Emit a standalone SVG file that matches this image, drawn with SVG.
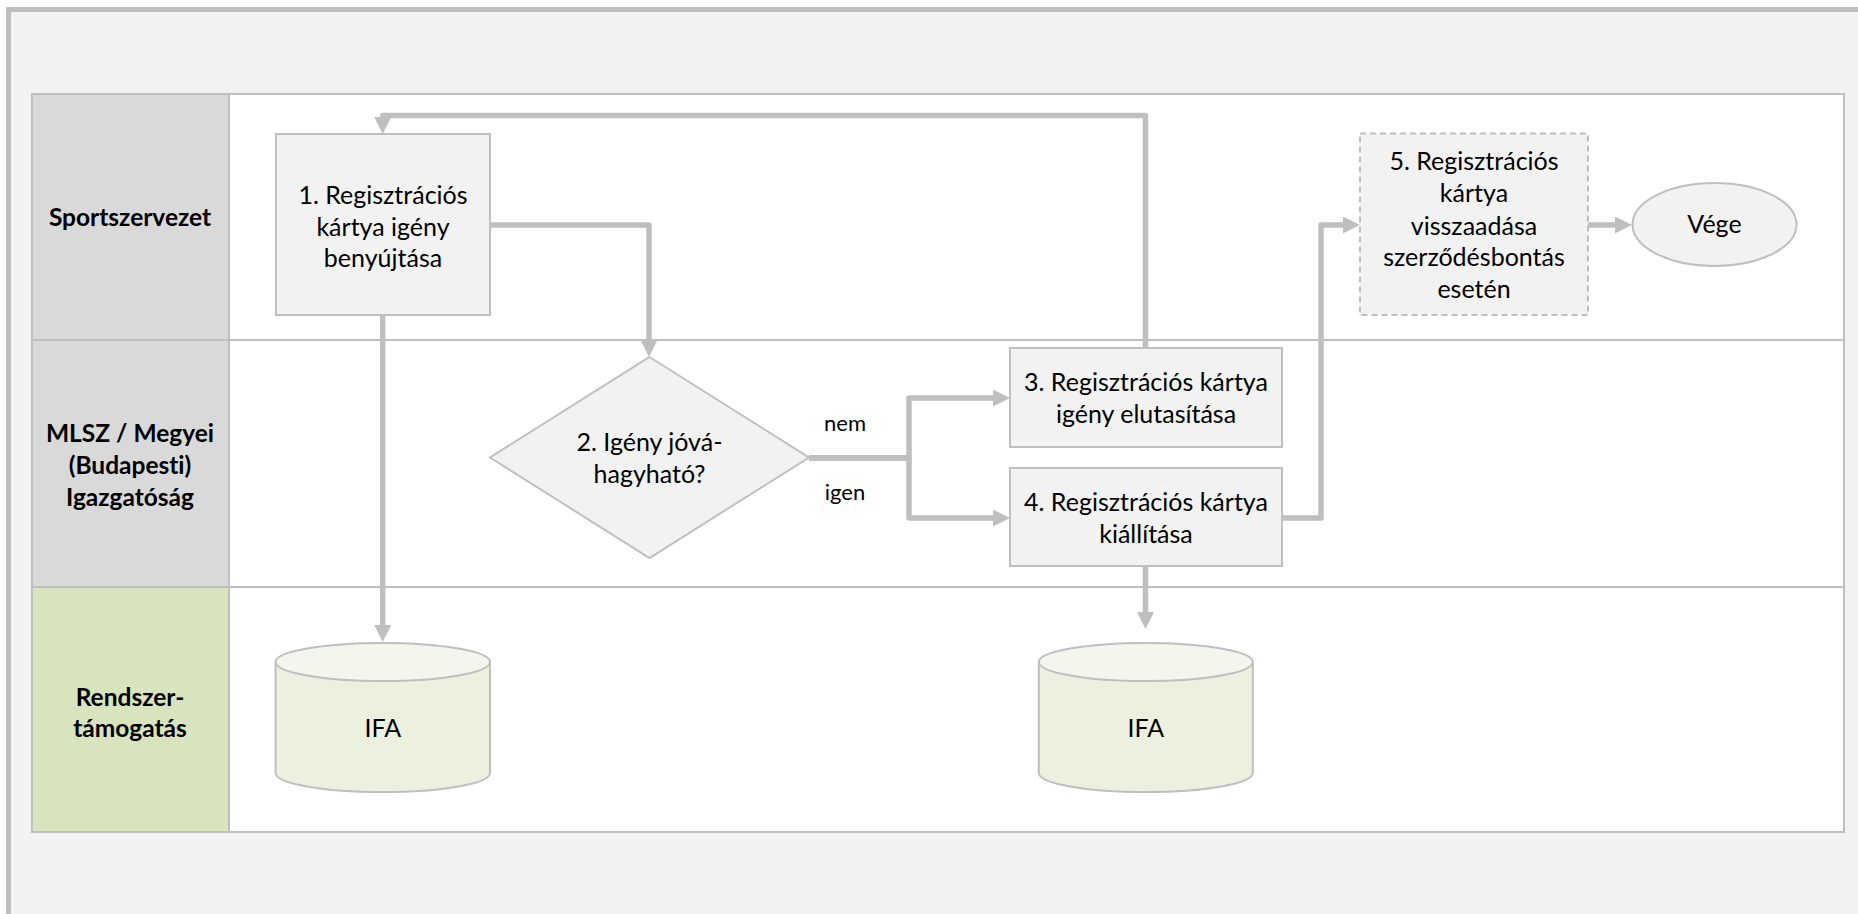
<svg xmlns="http://www.w3.org/2000/svg" width="1858" height="914" viewBox="0 0 1858 914">
<style>
text{font-family:Lato,"Liberation Sans",sans-serif;fill:#000;text-anchor:middle;font-variant-ligatures:none}
.t{font-size:25px}
.h{font-size:24.5px;font-weight:bold}
.l{font-size:22px}
.box{fill:#f2f2f2;stroke:#bfbfbf;stroke-width:2}
.lane{fill:none;stroke:#bfbfbf;stroke-width:2}
.c{fill:none;stroke:#bfbfbf;stroke-width:5.5;stroke-linejoin:round;marker-end:url(#ah)}
.cyl{fill:#ebf1de;stroke:#bfbfbf;stroke-width:2}
.cylt{fill:#f2f6ec;stroke:#bfbfbf;stroke-width:2}
</style>
<defs>
<marker id="ah" markerUnits="userSpaceOnUse" markerWidth="18" markerHeight="18" refX="9" refY="8.5" orient="auto">
<path d="M0,0 L17,8.5 L0,17 Z" fill="#bfbfbf"/>
</marker>
</defs>
<rect x="0" y="0" width="1858" height="914" fill="#ffffff"/>
<rect x="8.5" y="9.5" width="1900" height="1000" fill="#f2f2f2" stroke="#bfbfbf" stroke-width="5"/>
<g id="lanes">
<rect x="32" y="94" width="1812" height="738" fill="#ffffff"/>
<rect x="32" y="94" width="197" height="246" fill="#d9d9d9"/>
<rect x="32" y="340" width="197" height="247" fill="#d9d9d9"/>
<rect x="32" y="587" width="197" height="245" fill="#d7e4bd"/>
<rect class="lane" x="32" y="94" width="1812" height="738"/>
<line class="lane" x1="32" y1="340" x2="1844" y2="340"/>
<line class="lane" x1="32" y1="587" x2="1844" y2="587"/>
<line class="lane" x1="229" y1="94" x2="229" y2="832"/>
<g id="lane-sport"><text class="h" x="130" y="226">Sportszervezet</text></g>
<g id="lane-mlsz"><text class="h" x="130" y="442">MLSZ / Megyei</text><text class="h" x="130" y="474">(Budapesti)</text><text class="h" x="130" y="506">Igazgatóság</text></g>
<g id="lane-rendszer"><text class="h" x="130" y="706">Rendszer-</text><text class="h" x="130" y="737">támogatás</text></g>
</g>
<g id="connectors">
<path class="c" d="M490,225 H649 V349"/>
<path class="c" d="M382.7,315 V634"/>
<path class="c" d="M809,458 H909 V398 H1002"/>
<path class="c" d="M809,458 H909 V518 H1002"/>
<path class="c" d="M1145.5,348 V115.5 H382.7 V126"/>
<path class="c" d="M1145.5,566 V621"/>
<path class="c" d="M1282,518 H1321 V225 H1352"/>
<path class="c" d="M1588,225 H1624"/>
<text class="l" x="845" y="431">nem</text>
<text class="l" x="845" y="500">igen</text>
</g>
<g id="n1"><rect class="box" x="276" y="134" width="214" height="181"/>
<text class="t" x="383" y="203.5">1. Regisztrációs</text><text class="t" x="383" y="235.5">kártya igény</text><text class="t" x="383" y="267">benyújtása</text></g>
<g id="n2"><path class="box" d="M649.5,357 L809,457.5 L649.5,558 L490,457.5 Z"/>
<text class="t" x="649.5" y="451">2. Igény jóvá-</text><text class="t" x="649.5" y="483">hagyható?</text></g>
<g id="n3"><rect class="box" x="1010" y="348" width="272" height="99"/>
<text class="t" x="1146" y="391">3. Regisztrációs kártya</text><text class="t" x="1146" y="423">igény elutasítása</text></g>
<g id="n4"><rect class="box" x="1010" y="468" width="272" height="98"/>
<text class="t" x="1146" y="511">4. Regisztrációs kártya</text><text class="t" x="1146" y="543">kiállítása</text></g>
<g id="n5"><rect class="box" x="1360" y="133.5" width="228" height="181.5" stroke-dasharray="6,4"/>
<text class="t" x="1474" y="170">5. Regisztrációs</text><text class="t" x="1474" y="202">kártya</text><text class="t" x="1474" y="234.5">visszaadása</text><text class="t" x="1474" y="266">szerződésbontás</text><text class="t" x="1474" y="297.5">esetén</text></g>
<g id="end"><ellipse class="box" cx="1714.5" cy="224.5" rx="82" ry="41.5"/>
<text class="t" x="1714.5" y="233">Vége</text></g>
<g id="ifa1"><path class="cyl" d="M275.6,662 V773 A107.2,19 0 0 0 490,773 V662"/>
<ellipse class="cylt" cx="382.8" cy="662" rx="107.2" ry="19"/>
<text class="t" x="382.8" y="737">IFA</text></g>
<g id="ifa2"><path class="cyl" d="M1038.8,662 V773 A107,19 0 0 0 1252.8,773 V662"/>
<ellipse class="cylt" cx="1145.8" cy="662" rx="107" ry="19"/>
<text class="t" x="1145.8" y="737">IFA</text></g>
</svg>
